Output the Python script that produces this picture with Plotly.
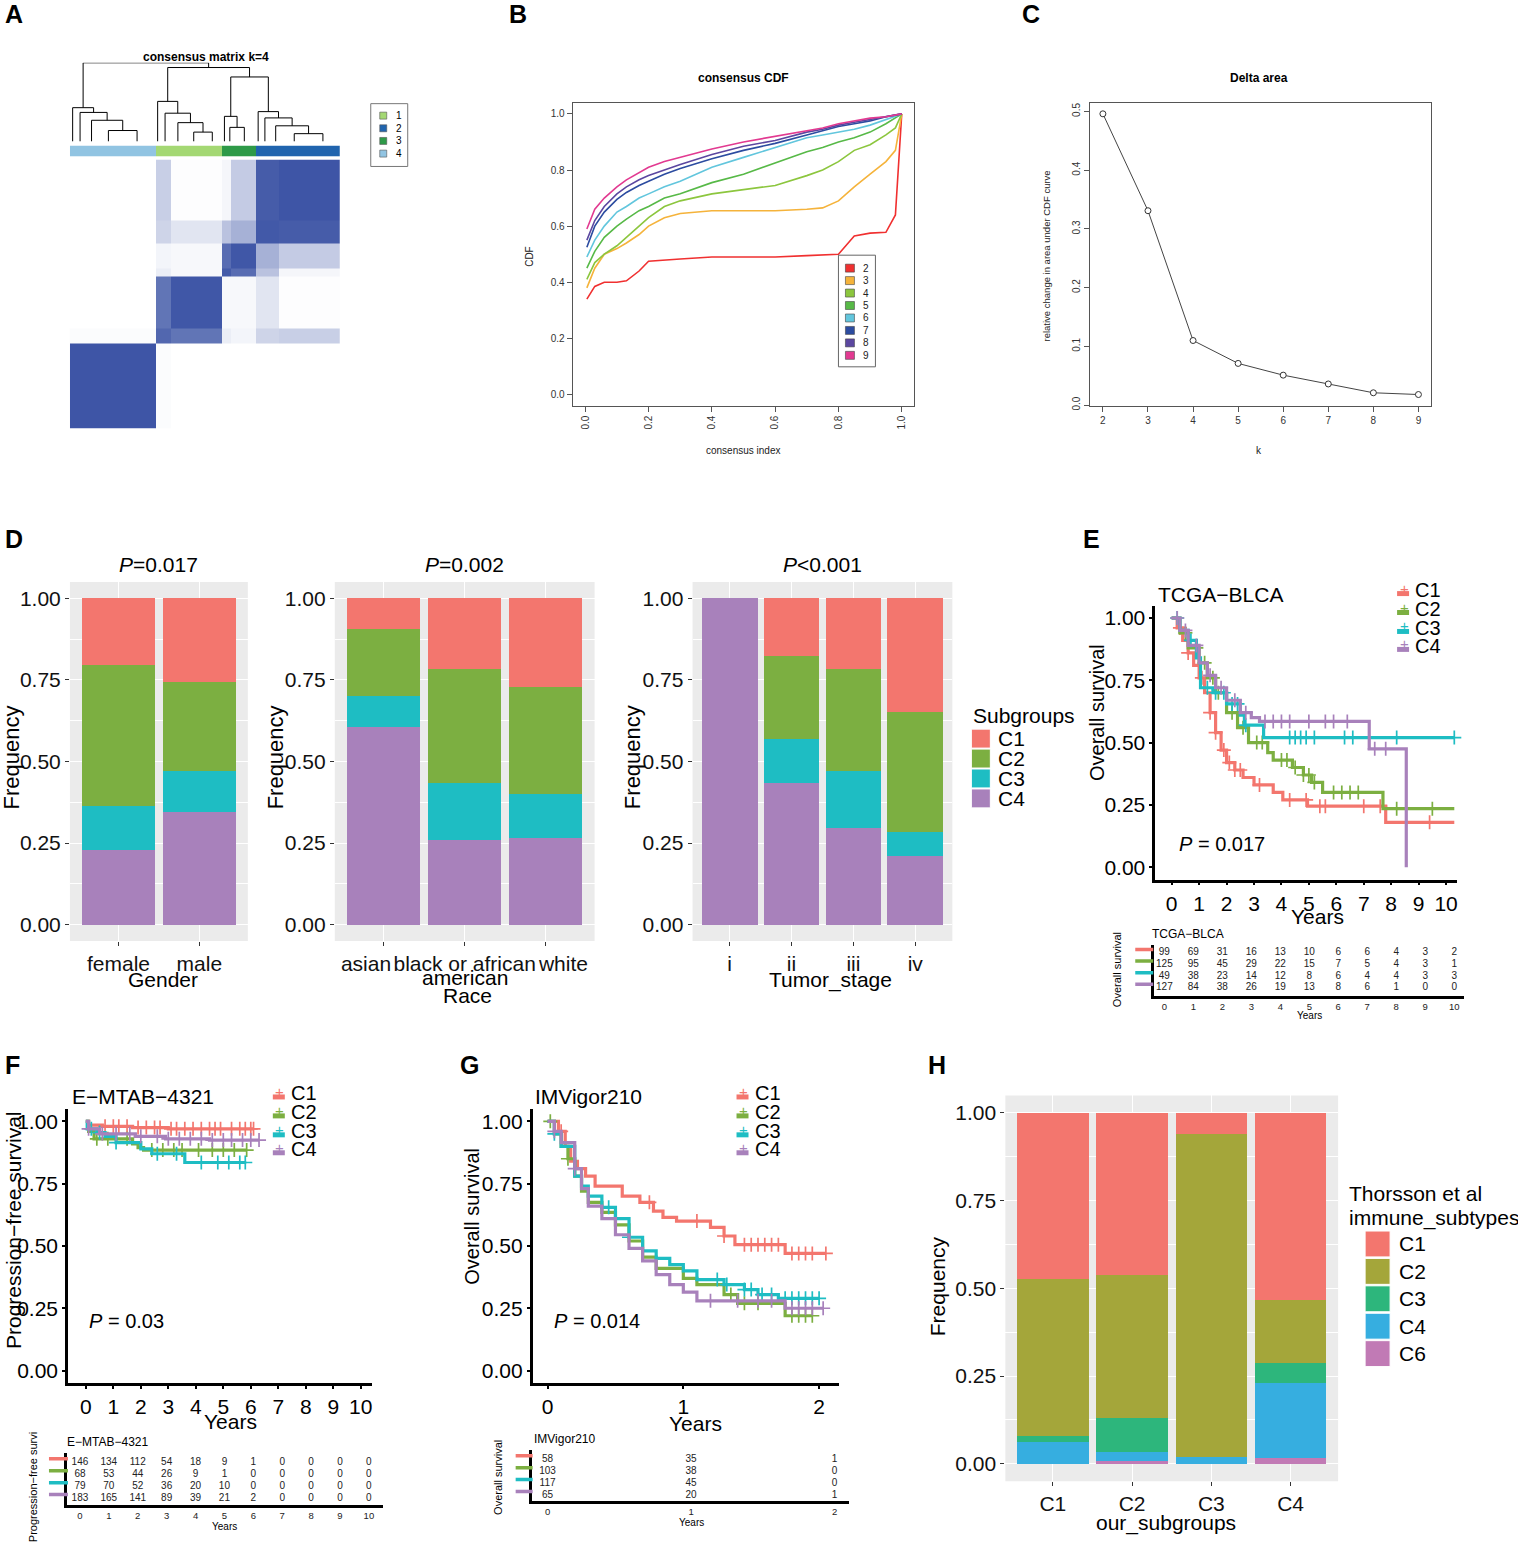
import numpy as np
import plotly.graph_objects as go

W, H = 1518, 1551
FONT = "Liberation Sans, Arial, sans-serif"
NB = "\u00a0"

# ---------------- A: consensus matrix k=4 ----------------
CLUSTER_ORDER = [4, 1, 3, 2]
CLUSTER_SIZES = [127, 99, 49, 125]
CLUSTER_COLORS = {1: "#A4D873", 2: "#2064AE", 3: "#2E9A48", 4: "#91C4E2"}
# sub-groups along the ordered samples (cluster 4 | 1 | 3 | 2)
GROUP_SIZES = [127, 22, 77, 12, 37, 35, 90]
CONSENSUS = [
    [0.98, 0.02, 0.00, 0.00, 0.00, 0.00, 0.00],
    [0.02, 0.88, 0.80, 0.10, 0.06, 0.25, 0.28],
    [0.00, 0.80, 0.97, 0.04, 0.04, 0.15, 0.01],
    [0.00, 0.10, 0.04, 0.95, 0.85, 0.35, 0.05],
    [0.00, 0.06, 0.04, 0.85, 0.97, 0.45, 0.30],
    [0.00, 0.25, 0.15, 0.35, 0.45, 0.96, 0.94],
    [0.00, 0.28, 0.01, 0.05, 0.30, 0.94, 0.98],
]
DEND_CHUNKS = {4: [8, 14, 20, 30, 55], 1: [6, 16, 22, 25, 30], 3: [6, 10, 33], 2: [8, 12, 20, 35, 50]}
DEND_HEIGHTS = {4: [0.43, 0.37, 0.27, 0.14], 1: [0.51, 0.36, 0.24, 0.12], 3: [0.32, 0.18], 2: [0.38, 0.30, 0.20, 0.10]}
DEND_TOP = [1.0, 0.94, 0.82]   # root, (1,(3,2)), (3,2)

# ---------------- B: consensus CDF ----------------
CDF_X = [0.005, 0.03, 0.06, 0.1, 0.13, 0.17, 0.2, 0.25, 0.3, 0.4, 0.5, 0.6, 0.7, 0.75, 0.8, 0.85, 0.9, 0.95, 0.98, 1.0]
cdf_k2 = [0.34, 0.385, 0.40, 0.40, 0.405, 0.44, 0.475, 0.48, 0.483, 0.49, 0.49, 0.49, 0.495, 0.497, 0.50, 0.565, 0.575, 0.578, 0.64, 1.0]
cdf_k3 = [0.38, 0.45, 0.50, 0.52, 0.54, 0.57, 0.60, 0.63, 0.645, 0.655, 0.655, 0.655, 0.66, 0.665, 0.69, 0.74, 0.785, 0.83, 0.87, 1.0]
cdf_k4 = [0.41, 0.47, 0.50, 0.53, 0.56, 0.60, 0.63, 0.67, 0.69, 0.715, 0.73, 0.745, 0.78, 0.80, 0.83, 0.87, 0.89, 0.925, 0.95, 1.0]
cdf_k5 = [0.45, 0.51, 0.56, 0.60, 0.625, 0.655, 0.67, 0.70, 0.715, 0.755, 0.785, 0.825, 0.865, 0.88, 0.90, 0.915, 0.935, 0.965, 0.985, 1.0]
cdf_k6 = [0.49, 0.55, 0.60, 0.65, 0.67, 0.70, 0.715, 0.74, 0.76, 0.81, 0.845, 0.88, 0.915, 0.925, 0.935, 0.945, 0.96, 0.98, 0.99, 1.0]
cdf_k7 = [0.525, 0.60, 0.65, 0.695, 0.72, 0.745, 0.76, 0.785, 0.805, 0.84, 0.87, 0.895, 0.925, 0.94, 0.955, 0.965, 0.975, 0.99, 0.995, 1.0]
cdf_k8 = [0.55, 0.62, 0.67, 0.715, 0.74, 0.765, 0.78, 0.80, 0.82, 0.855, 0.885, 0.905, 0.935, 0.945, 0.96, 0.97, 0.98, 0.99, 0.995, 1.0]
cdf_k9 = [0.59, 0.66, 0.70, 0.74, 0.765, 0.79, 0.81, 0.83, 0.845, 0.875, 0.90, 0.92, 0.94, 0.95, 0.965, 0.975, 0.985, 0.99, 0.995, 1.0]
CDF_K = ["2", "3", "4", "5", "6", "7", "8", "9"]
CDF_COLORS = ["#F03030", "#F5B33B", "#8CC63E", "#57B947", "#62C6DD", "#2C4CA0", "#5B47A0", "#E23A91"]

# ---------------- C: delta area ----------------
DELTA_K = [2, 3, 4, 5, 6, 7, 8, 9]
DELTA_AREA = [0.496, 0.331, 0.110, 0.071, 0.051, 0.036, 0.021, 0.018]

# ---------------- D: clinical proportions (C1, C2, C3, C4) ----------------
SUBGROUPS = ["C1", "C2", "C3", "C4"]
SUB_COLORS = ["#F3766E", "#7CAF41", "#1EBDC3", "#A881BB"]
GENDER_CATS = ["female", "male"]
GENDER_FRAC = [[0.205, 0.432, 0.134, 0.229], [0.257, 0.272, 0.125, 0.346]]
RACE_CATS = ["asian", "black or african", "white"]
RACE_FRAC = [[0.093, 0.207, 0.093, 0.607], [0.216, 0.349, 0.176, 0.259], [0.270, 0.330, 0.134, 0.266]]
STAGE_CATS = ["i", "ii", "iii", "iv"]
STAGE_FRAC = [[0.0, 0.0, 0.0, 1.0], [0.175, 0.257, 0.134, 0.434], [0.216, 0.312, 0.175, 0.297], [0.349, 0.367, 0.075, 0.209]]

# ---------------- E: TCGA-BLCA overall survival ----------------
E_C1_t = [0, 0.2, 0.4, 0.6, 0.8, 1.0, 1.2, 1.4, 1.6, 1.8, 2.0, 2.3, 2.6, 3.0, 3.7, 4.05, 4.95, 7.8, 10.3]
E_C1_s = [1.0, 0.96, 0.91, 0.86, 0.81, 0.76, 0.70, 0.62, 0.54, 0.47, 0.42, 0.39, 0.36, 0.33, 0.30, 0.27, 0.245, 0.18, 0.18]
E_C2_t = [0, 0.3, 0.6, 1.0, 1.3, 1.6, 2.0, 2.4, 2.8, 3.5, 3.7, 4.4, 4.8, 5.1, 5.5, 7.7, 10.3]
E_C2_s = [1.0, 0.94, 0.88, 0.82, 0.76, 0.70, 0.62, 0.56, 0.50, 0.46, 0.43, 0.40, 0.37, 0.34, 0.30, 0.235, 0.235]
E_C3_t = [0, 0.3, 0.6, 0.9, 1.05, 1.5, 2.0, 2.5, 2.65, 3.35, 10.3]
E_C3_s = [1.0, 0.95, 0.91, 0.84, 0.72, 0.70, 0.655, 0.61, 0.57, 0.52, 0.52]
E_C4_t = [0, 0.3, 0.6, 1.0, 1.3, 1.6, 2.0, 2.5, 2.9, 3.2, 7.2, 8.55]
E_C4_s = [1.0, 0.95, 0.89, 0.82, 0.77, 0.72, 0.67, 0.62, 0.60, 0.585, 0.475, 0.0]
E_CENS = [
    [0.3, 0.6, 1.1, 1.4, 1.6, 1.9, 2.1, 2.3, 2.5, 3.2, 4.3, 4.9, 5.4, 5.6, 7.0, 7.6, 9.4],
    [0.5, 0.9, 1.2, 1.5, 1.7, 2.2, 2.6, 3.1, 3.3, 4.0, 4.2, 4.5, 4.8, 5.0, 5.2, 5.9, 6.2, 6.5, 6.8, 8.2, 9.5],
    [0.2, 0.7, 1.3, 1.6, 1.9, 2.2, 2.4, 2.7, 4.3, 4.5, 4.7, 4.9, 5.2, 6.3, 6.6, 8.2, 10.3],
    [0.2, 0.5, 0.9, 1.4, 1.8, 2.3, 2.7, 3.4, 3.7, 4.0, 4.3, 5.0, 5.6, 5.9, 6.4, 7.4, 7.8],
]
E_RISK = [
    [99, 69, 31, 16, 13, 10, 6, 6, 4, 3, 2],
    [125, 95, 45, 29, 22, 15, 7, 5, 4, 3, 1],
    [49, 38, 23, 14, 12, 8, 6, 4, 4, 3, 3],
    [127, 84, 38, 26, 19, 13, 8, 6, 1, 0, 0],
]

# ---------------- F: E-MTAB-4321 progression-free survival ----------------
F_C1_t = [0, 0.1, 0.6, 1.7, 3.0, 6.1]
F_C1_s = [1.0, 0.985, 0.98, 0.975, 0.97, 0.97]
F_C2_t = [0, 0.1, 0.3, 1.7, 1.9, 2.1, 5.85]
F_C2_s = [1.0, 0.96, 0.93, 0.91, 0.895, 0.885, 0.885]
F_C3_t = [0, 0.05, 0.4, 0.7, 1.1, 2.0, 2.4, 3.6, 5.8]
F_C3_s = [1.0, 0.97, 0.955, 0.94, 0.915, 0.89, 0.87, 0.835, 0.835]
F_C4_t = [0, 0.1, 0.5, 1.8, 2.9, 4.5, 6.3]
F_C4_s = [1.0, 0.97, 0.95, 0.94, 0.93, 0.925, 0.925]
F_CENS = [
    [0.7, 1.0, 1.2, 1.5, 1.9, 2.2, 2.5, 2.7, 3.1, 3.3, 3.6, 3.9, 4.2, 4.5, 4.7, 4.9, 5.3, 5.6, 5.8, 6.0, 6.1],
    [0.4, 0.8, 1.5, 2.4, 2.8, 3.2, 3.5, 4.1, 4.6, 5.0, 5.4, 5.85],
    [0.2, 0.5, 1.1, 2.6, 3.3, 4.2, 4.8, 5.2, 5.6, 5.8],
    [0.1, 0.6, 1.1, 1.6, 2.0, 2.6, 3.0, 3.4, 3.8, 4.2, 4.6, 5.0, 5.3, 5.7, 6.0, 6.3],
]
F_RISK = [
    [146, 134, 112, 54, 18, 9, 1, 0, 0, 0, 0],
    [68, 53, 44, 26, 9, 1, 0, 0, 0, 0, 0],
    [79, 70, 52, 36, 20, 10, 0, 0, 0, 0, 0],
    [183, 165, 141, 89, 39, 21, 2, 0, 0, 0, 0],
]

# ---------------- G: IMVigor210 overall survival ----------------
G_C1_t = [0, 0.08, 0.13, 0.17, 0.22, 0.28, 0.35, 0.55, 0.68, 0.78, 0.85, 0.95, 1.2, 1.3, 1.38, 1.75, 2.05]
G_C1_s = [1.0, 0.96, 0.90, 0.84, 0.81, 0.78, 0.74, 0.70, 0.675, 0.64, 0.615, 0.60, 0.575, 0.54, 0.505, 0.47, 0.47]
G_C2_t = [0, 0.05, 0.1, 0.15, 0.2, 0.25, 0.3, 0.4, 0.5, 0.6, 0.7, 0.8, 1.0, 1.1, 1.3, 1.4, 1.75, 1.95]
G_C2_s = [1.0, 0.95, 0.90, 0.85, 0.78, 0.72, 0.675, 0.635, 0.585, 0.52, 0.455, 0.41, 0.37, 0.345, 0.305, 0.27, 0.22, 0.22]
G_C3_t = [0, 0.05, 0.1, 0.2, 0.25, 0.3, 0.4, 0.5, 0.6, 0.7, 0.8, 0.9, 1.0, 1.1, 1.3, 1.45, 1.55, 1.7, 2.0]
G_C3_s = [1.0, 0.95, 0.90, 0.78, 0.74, 0.70, 0.655, 0.61, 0.535, 0.48, 0.45, 0.425, 0.40, 0.365, 0.345, 0.325, 0.305, 0.29, 0.29]
G_C4_t = [0, 0.05, 0.1, 0.2, 0.25, 0.3, 0.4, 0.5, 0.6, 0.7, 0.8, 0.9, 1.0, 1.1, 1.75, 2.03]
G_C4_s = [1.0, 0.96, 0.915, 0.81, 0.73, 0.66, 0.61, 0.545, 0.49, 0.44, 0.385, 0.345, 0.315, 0.28, 0.25, 0.25]
G_CENS = [
    [0.1, 0.75, 1.1, 1.3, 1.45, 1.5, 1.55, 1.6, 1.65, 1.7, 1.8, 1.85, 1.9, 1.95, 2.05],
    [0.02, 0.15, 1.35, 1.45, 1.55, 1.8, 1.85, 1.9, 1.95],
    [0.05, 0.45, 0.6, 1.25, 1.32, 1.45, 1.5, 1.58, 1.65, 1.75, 1.8, 1.85, 1.9, 1.95, 2.0],
    [0.05, 0.2, 1.2, 1.4, 1.55, 1.65, 1.8, 1.85, 1.9, 1.95, 2.03],
]
G_RISK = [[58, 35, 1], [103, 38, 0], [117, 45, 0], [65, 20, 1]]

# ---------------- H: Thorsson immune subtypes ----------------
OUR_GROUPS = ["C1", "C2", "C3", "C4"]
IMMUNE = ["C1", "C2", "C3", "C4", "C6"]
IMMUNE_COLORS = ["#F3766E", "#A4A63A", "#2DB67C", "#36AEE0", "#C17AB5"]
IMMUNE_FRAC = [
    [0.473, 0.447, 0.019, 0.061, 0.0],
    [0.463, 0.407, 0.097, 0.026, 0.007],
    [0.059, 0.923, 0.0, 0.018, 0.0],
    [0.533, 0.181, 0.057, 0.213, 0.016],
]


def xdom(a, b):
    return [a / W, b / W]


def ydom(top, bottom):
    return [1 - bottom / H, 1 - top / H]


fig = go.Figure()
layout = {}
annotations = []
shapes = []


def ann(text, x, y, size, color="black", xanchor="center", yanchor="middle", angle=0, bold=False):
    if bold:
        text = f"<b>{text}</b>"
    annotations.append(dict(text=text, x=x / W, y=1 - y / H, xref="paper", yref="paper", showarrow=False,
                            font=dict(size=size, color=color, family=FONT), xanchor=xanchor, yanchor=yanchor,
                            textangle=angle))


def ids(n):
    return ("x" if n == 1 else f"x{n}"), ("y" if n == 1 else f"y{n}")


def set_axes(n, xd, yd, xa, ya):
    xi, yi = ids(n)
    xa.update(domain=xd, anchor=yi)
    ya.update(domain=yd, anchor=xi)
    layout["xaxis" if n == 1 else f"xaxis{n}"] = xa
    layout["yaxis" if n == 1 else f"yaxis{n}"] = ya


# ======== A ========
edges = np.concatenate([[0], np.cumsum(GROUP_SIZES)])
fig.add_trace(go.Heatmap(z=CONSENSUS, x=edges, y=edges, zmin=0, zmax=1, showscale=False,
                         colorscale=[[0, "white"], [1, "#3A52A4"]], xaxis="x", yaxis="y"))
set_axes(1, xdom(70, 340), ydom(160, 430), dict(visible=False, range=[0, 400]), dict(visible=False, range=[0, 400]))

dx, dy = [], []


def poly(pts):
    for p in pts:
        dx.append(p[0])
        dy.append(p[1])
    dx.append(None)
    dy.append(None)


def caterpillar(start, sizes, heights):
    sizes = np.array(sizes, dtype=float)
    centers = start + np.cumsum(sizes) - sizes / 2
    cur_x, cur_h = centers[-1], 0.0
    for i in range(len(heights) - 1, -1, -1):
        lx, h = centers[i], heights[i]
        poly([(lx, 0), (lx, h), (cur_x, h), (cur_x, cur_h)])
        cur_x, cur_h = (lx + cur_x) / 2, h
    return cur_x, cur_h


def join(a, b, h):
    poly([(a[0], a[1]), (a[0], h), (b[0], h), (b[0], b[1])])
    return (a[0] + b[0]) / 2, h


nodes = {}
start = 0
for c, size in zip(CLUSTER_ORDER, CLUSTER_SIZES):
    nodes[c] = caterpillar(start, DEND_CHUNKS[c], DEND_HEIGHTS[c])
    start += size
n2 = join(nodes[3], nodes[2], DEND_TOP[2])
n1 = join(nodes[1], n2, DEND_TOP[1])
join(nodes[4], n1, DEND_TOP[0])
fig.add_trace(go.Scatter(x=dx, y=dy, mode="lines", line=dict(color="black", width=1), xaxis="x2", yaxis="y2"))
set_axes(2, xdom(70, 340), ydom(63, 142), dict(visible=False, range=[0, 400]), dict(visible=False, range=[0, 1]))

cedges = np.concatenate([[0], np.cumsum(CLUSTER_SIZES)])
cscale = []
for i, c in enumerate([1, 2, 3, 4]):
    cscale += [[i / 4, CLUSTER_COLORS[c]], [(i + 1) / 4, CLUSTER_COLORS[c]]]
fig.add_trace(go.Heatmap(z=[CLUSTER_ORDER], x=cedges, y=[0, 1], zmin=0.5, zmax=4.5, showscale=False,
                         colorscale=cscale, xaxis="x3", yaxis="y3"))
set_axes(3, xdom(70, 340), ydom(146, 157), dict(visible=False, range=[0, 400]), dict(visible=False, range=[0, 1]))

ann("consensus matrix k=4", 206, 57, 12, bold=True)
shapes.append(dict(type="rect", xref="paper", yref="paper", x0=371 / W, x1=408 / W, y0=1 - 167 / H, y1=1 - 104 / H,
                   line=dict(color="#777", width=1), fillcolor="white"))
for i, c in enumerate([1, 2, 3, 4]):
    yc = 116 + i * 12.7
    shapes.append(dict(type="rect", xref="paper", yref="paper", x0=380 / W, x1=387 / W, y0=1 - (yc + 3.5) / H,
                       y1=1 - (yc - 3.5) / H, line=dict(color="#555", width=0.6), fillcolor=CLUSTER_COLORS[c]))
    ann(str(c), 399, yc, 10)

# ======== B ========
for k, ys, col in zip(CDF_K, [cdf_k2, cdf_k3, cdf_k4, cdf_k5, cdf_k6, cdf_k7, cdf_k8, cdf_k9], CDF_COLORS):
    fig.add_trace(go.Scatter(x=CDF_X, y=ys, mode="lines", line=dict(color=col, width=1.6), xaxis="x4", yaxis="y4"))
r_axis = dict(showline=True, mirror=True, linecolor="#555", linewidth=1, ticks="outside", ticklen=5,
              tickcolor="#555", showgrid=False, zeroline=False, tickfont=dict(size=10, color="#333", family=FONT))
tv = [0, 0.2, 0.4, 0.6, 0.8, 1.0]
set_axes(4, xdom(573, 915), ydom(103, 407),
         dict(r_axis, range=[-0.04, 1.04], tickvals=tv, ticktext=[f"{v:.1f}" for v in tv], tickangle=-90),
         dict(r_axis, range=[-0.04, 1.04], tickvals=tv, ticktext=[f"{v:.1f}" for v in tv]))
ann("consensus CDF", 744, 78, 12, bold=True)
ann("consensus index", 744, 452, 10, color="#222")
ann("CDF", 530, 257, 10, color="#222", angle=-90)
shapes.append(dict(type="rect", xref="paper", yref="paper", x0=839 / W, x1=876 / W, y0=1 - 368 / H, y1=1 - 256 / H,
                   line=dict(color="#666", width=1), fillcolor="white"))
for i, (k, col) in enumerate(zip(CDF_K, CDF_COLORS)):
    yc = 269 + i * 12.5
    shapes.append(dict(type="rect", xref="paper", yref="paper", x0=846 / W, x1=855 / W, y0=1 - (yc + 4) / H,
                       y1=1 - (yc - 4) / H, line=dict(color="#444", width=0.6), fillcolor=col))
    ann(k, 867, yc, 10, color="#222")

# ======== C ========
fig.add_trace(go.Scatter(x=DELTA_K, y=DELTA_AREA, mode="lines+markers", line=dict(color="#444", width=1),
                         marker=dict(symbol="circle", size=6, color="white", line=dict(color="#333", width=1)),
                         xaxis="x5", yaxis="y5"))
set_axes(5, xdom(1091, 1432), ydom(103, 407),
         dict(r_axis, range=[1.72, 9.28], tickvals=DELTA_K),
         dict(r_axis, range=[-0.001, 0.515], tickvals=[0, 0.1, 0.2, 0.3, 0.4, 0.5],
              ticktext=["0.0", "0.1", "0.2", "0.3", "0.4", "0.5"], tickangle=-90))
ann("Delta area", 1260, 78, 12, bold=True)
ann("k", 1260, 452, 10, color="#222")
ann("relative change in area under CDF curve", 1047, 257, 9.5, color="#222", angle=-90)


# ======== ggplot style stacked bars ========
def gg_panel(n, x0, x1, top, bottom, cats, fracs, colors, labels, ticktext=None):
    xi, yi = ids(n)
    nlev = len(labels)
    for j in range(nlev - 1, -1, -1):
        fig.add_trace(go.Bar(x=list(range(len(cats))), y=[f[j] for f in fracs], width=0.9,
                             marker=dict(color=colors[j], line=dict(width=0)), xaxis=xi, yaxis=yi))
    grid = dict(showgrid=True, gridcolor="white", gridwidth=1.3, zeroline=False, showline=False,
                ticks="outside", ticklen=4, tickcolor="#333", tickfont=dict(size=21, color="#111", family=FONT))
    set_axes(n, xdom(x0, x1), ydom(top, bottom),
             dict(grid, range=[-0.6, len(cats) - 0.4], tickvals=list(range(len(cats))),
                  ticktext=ticktext or cats, tickangle=0),
             dict(grid, range=[-0.05, 1.05], tickvals=[0, 0.25, 0.5, 0.75, 1.0],
                  ticktext=["0.00", "0.25", "0.50", "0.75", "1.00"],
                  minor=dict(tickvals=[0.125, 0.375, 0.625, 0.875], showgrid=True, gridcolor="white",
                             gridwidth=0.6, ticks="")))
    shapes.append(dict(type="rect", xref=f"{xi} domain", yref=f"{yi} domain", x0=0, x1=1, y0=0, y1=1,
                       fillcolor="#EBEBEB", line=dict(width=0), layer="below"))


gg_panel(6, 70, 248, 584, 944, GENDER_CATS, GENDER_FRAC, SUB_COLORS, SUBGROUPS)
# the outer race labels sit a little outward in the reference, nudged with padding spaces
gg_panel(7, 335, 595, 584, 944, RACE_CATS, RACE_FRAC, SUB_COLORS, SUBGROUPS,
         ticktext=[RACE_CATS[0] + NB * 6, RACE_CATS[1], NB * 6 + RACE_CATS[2]])
gg_panel(8, 693, 953, 584, 944, STAGE_CATS, STAGE_FRAC, SUB_COLORS, SUBGROUPS)
ann("<i>P</i>=0.017", 159, 566, 21)
ann("<i>P</i>=0.002", 465, 566, 21)
ann("<i>P</i><0.001", 823, 566, 21)
for xc in [12, 276, 633]:
    ann("Frequency", xc, 760, 22, angle=-90)
ann("Gender", 163, 983, 21)
ann("american", 465, 981, 21)
ann("Race", 468, 999, 21)
ann("Tumor_stage", 831, 983, 21)
ann("Subgroups", 972, 718, 21, xanchor="left")
for i, (lab, col) in enumerate(zip(SUBGROUPS, SUB_COLORS)):
    yc = 741 + i * 20
    shapes.append(dict(type="rect", xref="paper", yref="paper", x0=972 / W, x1=991 / W, y0=1 - (yc + 9.5) / H,
                       y1=1 - (yc - 9.5) / H, line=dict(color="white", width=1), fillcolor=col))
    ann(lab, 997, yc, 21, xanchor="left")

gg_panel(15, 1006, 1339, 1099, 1486, OUR_GROUPS, IMMUNE_FRAC, IMMUNE_COLORS, IMMUNE)
ann("Frequency", 938, 1290, 21, angle=-90)
ann("our_subgroups", 1167, 1528, 21)
ann("Thorsson et al", 1348, 1197, 21, xanchor="left")
ann("immune_subtypes", 1348, 1222, 21, xanchor="left")
for i, (lab, col) in enumerate(zip(IMMUNE, IMMUNE_COLORS)):
    yc = 1248 + i * 27.5
    shapes.append(dict(type="rect", xref="paper", yref="paper", x0=1366 / W, x1=1391 / W, y0=1 - (yc + 13) / H,
                       y1=1 - (yc - 13) / H, line=dict(color="white", width=1), fillcolor=col))
    ann(lab, 1398, yc, 21, xanchor="left")


# ======== Kaplan-Meier panels ========
def surv_at(t, s, times):
    idx = np.searchsorted(np.array(t), np.array(times), side="right") - 1
    return np.array(s)[idx]


km_line = dict(showline=True, linecolor="black", linewidth=2.5, ticks="outside", ticklen=3, tickwidth=2,
               tickcolor="black", showgrid=False, zeroline=False, tickfont=dict(size=21, color="black", family=FONT))
risk_line = dict(showline=True, linecolor="black", linewidth=2.5, ticks="", showgrid=False, zeroline=False,
                 tickfont=dict(size=9.5, color="#222", family=FONT))


def km_panel(n, curves, cens, xd, yd, xrange, xticks):
    xi, yi = ids(n)
    for (t, s), ct, col in zip(curves, cens, SUB_COLORS):
        fig.add_trace(go.Scatter(x=t, y=s, mode="lines", line=dict(shape="hv", width=3.2, color=col),
                                 xaxis=xi, yaxis=yi))
        fig.add_trace(go.Scatter(x=ct, y=surv_at(t, s, ct), mode="markers", cliponaxis=False,
                                 marker=dict(symbol="cross-thin", size=10, line=dict(width=1.7, color=col)),
                                 xaxis=xi, yaxis=yi))
    set_axes(n, xd, yd, dict(km_line, range=xrange, tickvals=xticks),
             dict(km_line, range=[-0.05, 1.05], tickvals=[0, 0.25, 0.5, 0.75, 1.0],
                  ticktext=["0.00", "0.25", "0.50", "0.75", "1.00"]))


def risk_panel(n, table, xd, yd, xrange, yrange, bar_x0, bar_x1):
    xi, yi = ids(n)
    for g, (row, col) in enumerate(zip(table, SUB_COLORS)):
        yrow = 4 - g
        fig.add_trace(go.Scatter(x=list(range(len(row))), y=[yrow] * len(row), mode="text",
                                 text=[str(v) for v in row], textfont=dict(size=10, color="#222", family=FONT),
                                 xaxis=xi, yaxis=yi))
        shapes.append(dict(type="line", xref="paper", yref=yi, x0=bar_x0 / W, x1=bar_x1 / W, y0=yrow + 0.3,
                           y1=yrow + 0.3, line=dict(color=col, width=3.5)))
    set_axes(n, xd, yd, dict(risk_line, range=xrange, tickvals=list(range(len(table[0])))),
             dict(risk_line, range=yrange, showticklabels=False))


def km_legend(x0, ys):
    for lab, col, yc in zip(SUBGROUPS, SUB_COLORS, ys):
        shapes.append(dict(type="rect", xref="paper", yref="paper", x0=x0 / W, x1=(x0 + 12) / W,
                           y0=1 - (yc + 6) / H, y1=1 - (yc + 1) / H, line=dict(width=0), fillcolor=col))
        ann("+", x0 + 7, yc - 2, 15, color=col)
        ann(lab, x0 + 16, yc, 20, xanchor="left")


# E
km_panel(9, [(E_C1_t, E_C1_s), (E_C2_t, E_C2_s), (E_C3_t, E_C3_s), (E_C4_t, E_C4_s)], E_CENS,
         xdom(1156, 1458), ydom(607.5, 882.5), [-0.6, 10.4], list(range(11)))
ann("TCGA−BLCA", 1157, 596, 21, xanchor="left")
ann("Overall survival", 1097, 715, 20, angle=-90)
ann("Years", 1318, 919, 21)
ann("<i>P</i> = 0.017", 1178, 847, 20, xanchor="left")
km_legend(1398, [592, 611, 630, 648])
risk_panel(10, E_RISK, xdom(1155, 1465), ydom(948, 999), [-0.35, 10.34], [0.31, 4.69], 1136, 1154)
ann("TCGA−BLCA", 1151, 937, 12, xanchor="left")
ann("Years", 1310, 1019, 10)
ann("Overall survival", 1118, 973, 11, angle=-90)

# F
km_panel(11, [(F_C1_t, F_C1_s), (F_C2_t, F_C2_s), (F_C3_t, F_C3_s), (F_C4_t, F_C4_s)], F_CENS,
         xdom(68, 372), ydom(1112.5, 1387.5), [-0.65, 10.4], list(range(11)))
ann("E−MTAB−4321", 70, 1100, 21, xanchor="left")
ann("Progression−free survival", 13, 1234, 21, angle=-90)
ann("Years", 231, 1426, 21)
ann("<i>P</i> = 0.03", 87, 1325, 20, xanchor="left")
km_legend(273, [1097, 1116, 1135, 1153])
risk_panel(12, F_RISK, xdom(67, 383), ydom(1458, 1510), [-0.45, 10.48], [0.42, 4.75], 49, 68)
ann("E−MTAB−4321", 65, 1447, 12, xanchor="left")
ann("Years", 225, 1531, 10)
ann("Progression−free survi", 33, 1492, 11, angle=-90)

# G
km_panel(13, [(G_C1_t, G_C1_s), (G_C2_t, G_C2_s), (G_C3_t, G_C3_s), (G_C4_t, G_C4_s)], G_CENS,
         xdom(533, 840), ydom(1112.5, 1387.5), [-0.11, 2.15], [0, 1, 2])
ann("IMVigor210", 533, 1100, 21, xanchor="left")
ann("Overall survival", 472, 1220, 20, angle=-90)
ann("Years", 696, 1428, 21)
ann("<i>P</i> = 0.014", 552, 1325, 20, xanchor="left")
km_legend(737, [1097, 1116, 1135, 1153])
risk_panel(14, G_RISK, xdom(532, 850), ydom(1455, 1506), [-0.111, 2.104], [0.5, 4.75], 516, 533)
ann("IMVigor210", 532, 1444, 12, xanchor="left")
ann("Years", 692, 1527, 10)
ann("Overall survival", 499, 1482, 11, angle=-90)

# panel letters
for letter, x, y in [("A", 14, 14), ("B", 518, 14), ("C", 1032, 14), ("D", 14, 541), ("E", 1092, 541),
                     ("F", 13, 1068), ("G", 470, 1068), ("H", 938, 1068)]:
    ann(letter, x, y, 25, bold=True)

layout.update(width=W, height=H, margin=dict(l=0, r=0, t=0, b=0), paper_bgcolor="white", plot_bgcolor="white",
              showlegend=False, barmode="stack", font=dict(family=FONT, color="black"),
              annotations=annotations, shapes=shapes)
fig.update_layout(**layout)
# drop the browser's default 8px body margin so the figure sits at the page origin
fig.write_html("out.html", config={"displayModeBar": False},
               post_script="document.body.style.margin='0';")
